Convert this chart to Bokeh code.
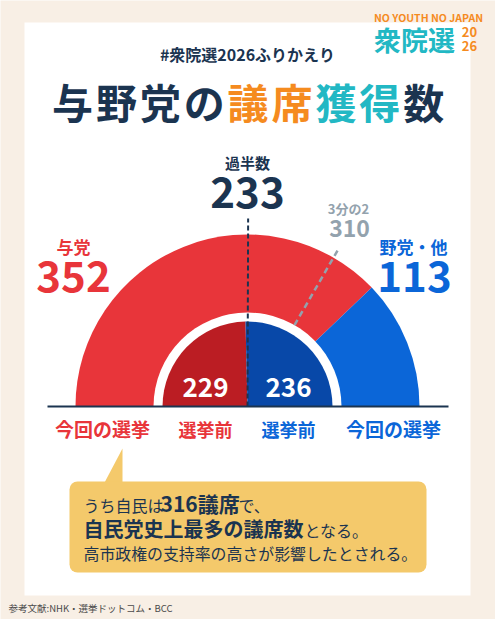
import numpy as np
from bokeh.plotting import figure
from bokeh.models import Range1d, ColumnDataSource
from bokeh.core.properties import value
from bokeh.embed import file_html
from bokeh.resources import INLINE

# ---- data ----
parties = ["与党", "野党・他"]
seats_now = [352, 113]
seats_before = [229, 236]
total_seats = 465
majority = 233
two_thirds = 310
now_label = "今回の選挙"
before_label = "選挙前"

# ---- style ----
CREAM = "#f8efe5"
NAVY = "#1b3450"
RED = "#e8353a"
BLUE = "#0b66d8"
DRED = "#bb1d23"
DBLUE = "#0848a8"
ORANGE = "#f58b1f"
TEAL = "#22b8c4"
GRAY = "#93a2ad"
YELLOW = "#f4c96b"
FONT = "Noto Sans CJK JP"

p = figure(width=495, height=619, x_range=Range1d(0, 495), y_range=Range1d(0, 619),
           output_backend="svg", toolbar_location=None, min_border=0)
p.axis.visible = False
p.grid.visible = False
p.outline_line_color = None
p.background_fill_color = CREAM
p.border_fill_color = CREAM


def Y(v):
    return 619 - v


def txt(x, y, s, size, color, bold=True, align="center"):
    p.text(x=[x], y=[Y(y)], text=[s], text_font=value(FONT), text_font_size=f"{size}px",
           text_font_style="bold" if bold else "normal", text_color=color,
           text_align=align, text_baseline="middle")


# white card
p.quad(left=[24], right=[470], top=[Y(22)], bottom=[Y(595)], fill_color="white", line_color=None)

# logo
txt(428, 17, "NO YOUTH NO JAPAN", 10.5, ORANGE)
txt(414, 39, "衆院選", 27, TEAL)
txt(469, 31, "20", 13, ORANGE)
txt(469, 45, "26", 13, ORANGE)

# headings
txt(247, 53, "#衆院選2026ふりかえり", 16, NAVY)
title_chars = list("与野党の議席獲得数")
title_cols = [NAVY] * 4 + [ORANGE] * 2 + [TEAL] * 2 + [NAVY]
for i, (ch, c) in enumerate(zip(title_chars, title_cols)):
    txt(72 + 43.9 * i, 100, ch, 41, c)

# ---- semicircle chart ----
cx, cy = 247, Y(406)
R_OUT, R_GAP, R_IN = 172, 94, 85


def ang(v):
    return np.pi * (1 - v / total_seats)


now_src = ColumnDataSource(dict(
    start=[ang(seats_now[0]), 0.0], end=[np.pi, ang(seats_now[0])], color=[RED, BLUE]))
p.wedge(x=cx, y=cy, radius=R_OUT, start_angle="start", end_angle="end",
        fill_color="color", line_color=None, source=now_src)
p.wedge(x=cx, y=cy, radius=R_GAP, start_angle=0, end_angle=np.pi, fill_color="white", line_color=None)
before_src = ColumnDataSource(dict(
    start=[ang(seats_before[0]), 0.0], end=[np.pi, ang(seats_before[0])], color=[DRED, DBLUE]))
p.wedge(x=cx, y=cy, radius=R_IN, start_angle="start", end_angle="end",
        fill_color="color", line_color=None, source=before_src)

# majority line
a = ang(majority)
p.segment(x0=[cx], y0=[cy], x1=[cx + 188 * np.cos(a)], y1=[cy + 188 * np.sin(a)],
          line_color=NAVY, line_width=2, line_dash="5 3")
# two-thirds line
a = ang(two_thirds)
p.segment(x0=[cx + 94 * np.cos(a)], y0=[cy + 94 * np.sin(a)],
          x1=[cx + 184 * np.cos(a)], y1=[cy + 184 * np.sin(a)],
          line_color=GRAY, line_width=2.5, line_dash="6 4")

# baseline
p.segment(x0=[47], y0=[cy], x1=[448], y1=[cy], line_color=NAVY, line_width=2)

# labels
txt(247, 162, "過半数", 15, NAVY)
txt(247, 192, str(majority), 42, NAVY)
txt(348, 208, "3分の2", 13, GRAY)
txt(349, 228, str(two_thirds), 23, GRAY)
txt(73, 246, parties[0], 17, RED)
txt(73, 276, str(seats_now[0]), 42, RED)
txt(413, 246, parties[1], 17, BLUE)
txt(414, 276, str(seats_now[1]), 42, BLUE)
txt(205, 387, str(seats_before[0]), 26, "white")
txt(288, 387, str(seats_before[1]), 26, "white")

txt(102, 428, now_label, 19, RED)
txt(205, 428, before_label, 18, RED)
txt(288, 428, before_label, 18, BLUE)
txt(393, 428, now_label, 19, BLUE)

# callout
p.patch(x=[103, 122, 122], y=[Y(484), Y(448), Y(484)], fill_color=YELLOW, line_color=None)
p.quad(left=[69], right=[426], top=[Y(481)], bottom=[Y(572)], fill_color=YELLOW,
       line_color=None, border_radius=8)

txt(83, 504, "うち自民は", 16, NAVY, bold=False, align="left")
txt(160, 502, "316議席", 21, NAVY, align="left")
txt(238, 504, "で、", 16, NAVY, bold=False, align="left")
txt(83, 528, "自民党史上最多の議席数", 20, NAVY, align="left")
txt(304, 529, "となる。", 16, NAVY, bold=False, align="left")
txt(83, 553, "高市政権の支持率の高さが影響したとされる。", 15.9, NAVY, bold=False, align="left")

# footer
txt(8, 607, "参考文献:NHK・選挙ドットコム・BCC", 9.5, "#4a4a4a", bold=False, align="left")

html = file_html(p, INLINE)
html = html.replace("<body>", f'<body style="background:{CREAM};">', 1)
open("out.html", "w").write(html)
